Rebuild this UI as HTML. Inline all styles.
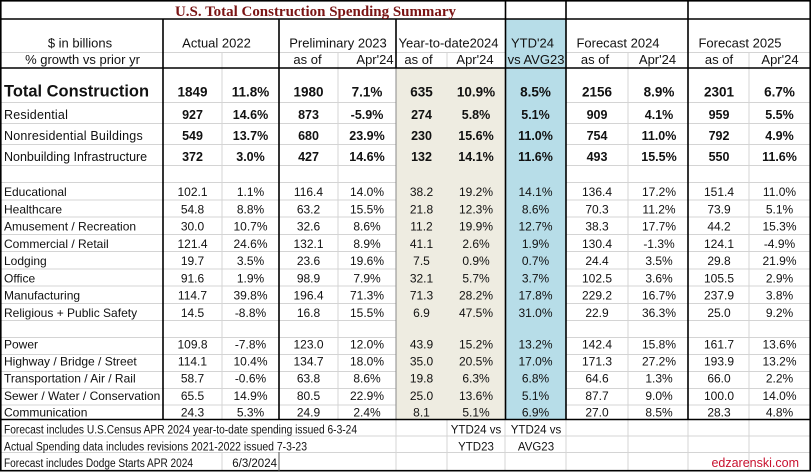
<!DOCTYPE html>
<html><head><meta charset="utf-8"><style>
html,body{margin:0;padding:0;background:#fff;}
svg{display:block;}
text{font-family:"Liberation Sans",Arial,sans-serif;fill:#111;}
.h{font-size:13px;}
.t{font-size:12.5px;}
.b{font-size:12.5px;font-weight:bold;}
.d{font-size:12px;}
.f{font-size:11.5px;}
.m{text-anchor:middle;}
</style></head><body>
<svg width="812" height="472" viewBox="0 0 812 472" xmlns="http://www.w3.org/2000/svg">
<rect x="0" y="0" width="812" height="472" fill="#fff"/>
<!-- gray gridlines -->
<g stroke="#d4d4d4" stroke-width="1" shape-rendering="crispEdges">
<line x1="0" y1="52.5" x2="810" y2="52.5"/>
<line x1="0" y1="102.5" x2="810" y2="102.5"/>
<line x1="0" y1="123.5" x2="810" y2="123.5"/>
<line x1="0" y1="144.5" x2="810" y2="144.5"/>
<line x1="0" y1="165.5" x2="810" y2="165.5"/>
<line x1="0" y1="182.5" x2="810" y2="182.5"/>
<line x1="0" y1="199.75" x2="810" y2="199.75"/>
<line x1="0" y1="217" x2="810" y2="217"/>
<line x1="0" y1="234.25" x2="810" y2="234.25"/>
<line x1="0" y1="251.5" x2="810" y2="251.5"/>
<line x1="0" y1="268.75" x2="810" y2="268.75"/>
<line x1="0" y1="286" x2="810" y2="286"/>
<line x1="0" y1="303.25" x2="810" y2="303.25"/>
<line x1="0" y1="320.5" x2="810" y2="320.5"/>
<line x1="0" y1="337.3" x2="810" y2="337.3"/>
<line x1="0" y1="354.4" x2="810" y2="354.4"/>
<line x1="0" y1="371.5" x2="810" y2="371.5"/>
<line x1="0" y1="388.6" x2="810" y2="388.6"/>
<line x1="0" y1="405.2" x2="810" y2="405.2"/>
<line x1="0" y1="436" x2="810" y2="436"/>
<line x1="0" y1="452.5" x2="810" y2="452.5"/>
<line x1="222" y1="52" x2="222" y2="419"/>
<line x1="338" y1="52" x2="338" y2="419"/>
<line x1="447" y1="52" x2="447" y2="471"/>
<line x1="628" y1="52" x2="628" y2="471"/>
<line x1="749" y1="52" x2="749" y2="471"/>
<line x1="396" y1="419" x2="396" y2="471"/>
<line x1="505" y1="419" x2="505" y2="471"/>
<line x1="566" y1="419" x2="566" y2="471"/>
<line x1="688" y1="419" x2="688" y2="471"/>
<line x1="222" y1="452" x2="222" y2="471"/>
<line x1="279" y1="452" x2="279" y2="471"/>
</g>
<!-- white cover for footer overflow text -->
<rect x="1" y="420.5" width="394" height="15" fill="#fff"/>
<rect x="1" y="436.5" width="394" height="15.5" fill="#fff"/>
<rect x="1" y="453" width="220" height="17" fill="#fff"/>
<!-- fills -->
<rect x="396" y="68" width="109" height="351.5" fill="#eeece1"/>
<rect x="505" y="19" width="61" height="400.5" fill="#b7dde8"/>
<!-- beige left border in data area -->
<line x1="396" y1="68" x2="396" y2="419" stroke="#8a8a8a" stroke-width="1"/>
<!-- black lines -->
<g stroke="#000" stroke-width="1.6" fill="none">
<rect x="0.8" y="0.8" width="809.4" height="469.9"/>
<line x1="0" y1="19" x2="810" y2="19"/>
<line x1="0" y1="68" x2="810" y2="68"/>
<line x1="0" y1="419.5" x2="810" y2="419.5"/>
<line x1="163" y1="19" x2="163" y2="419.5"/>
<line x1="279" y1="19" x2="279" y2="419.5"/>
<line x1="396" y1="19" x2="396" y2="68"/>
<line x1="505.5" y1="0" x2="505.5" y2="419.5"/>
<line x1="566" y1="0" x2="566" y2="419.5"/>
<line x1="688" y1="0" x2="688" y2="419.5"/>
</g>
<line x1="279" y1="452" x2="279" y2="471" stroke="#555" stroke-width="1"/>

<!-- title -->
<text x="175" y="16" textLength="281" lengthAdjust="spacingAndGlyphs" style="font-family:'Liberation Serif','Times New Roman',serif;font-weight:bold;font-size:14.5px;fill:#7a1414;">U.S. Total Construction Spending Summary</text>

<!-- header row 1 -->
<text class="h m" x="80" y="47.5">$ in billions</text>
<text class="h m" x="216.5" y="47.5">Actual 2022</text>
<text class="h m" x="338" y="47.5">Preliminary 2023</text>
<text class="h m" x="448.5" y="47.5">Year-to-date2024</text>
<text class="h m" x="532.5" y="47.5">YTD'24</text>
<text class="h m" x="618" y="47.5">Forecast 2024</text>
<text class="h m" x="740" y="47.5">Forecast 2025</text>
<!-- header row 2 -->
<text class="h m" x="82.5" y="64">% growth vs prior yr</text>
<text class="h m" x="307.5" y="64">as of</text>
<text class="h m" x="375" y="64">Apr'24</text>
<text class="h m" x="418.5" y="64">as of</text>
<text class="h m" x="475" y="64">Apr'24</text>
<text class="h m" x="536" y="64">vs AVG23</text>
<text class="h m" x="595" y="64">as of</text>
<text class="h m" x="657.5" y="64">Apr'24</text>
<text class="h m" x="719" y="64">as of</text>
<text class="h m" x="780" y="64">Apr'24</text>

<!-- Total Construction -->
<text x="4" y="96.7" textLength="145" lengthAdjust="spacingAndGlyphs" style="font-size:16.5px;font-weight:bold;">Total Construction</text>
<g style="font-size:13.5px;font-weight:bold;" text-anchor="middle">
<text x="192.5" y="96.7">1849</text><text x="250.5" y="96.7">11.8%</text>
<text x="308.5" y="96.7">1980</text><text x="367" y="96.7">7.1%</text>
<text x="421.5" y="96.7">635</text><text x="476" y="96.7">10.9%</text>
<text x="535.5" y="96.7">8.5%</text>
<text x="597" y="96.7">2156</text><text x="659" y="96.7">8.9%</text>
<text x="719" y="96.7">2301</text><text x="779.5" y="96.7">6.7%</text>
</g>

<!-- Residential etc -->
<text class="t" x="4" y="119" style="letter-spacing:0.2px">Residential</text>
<text class="t" x="4" y="140" style="letter-spacing:0.2px">Nonresidential Buildings</text>
<text class="t" x="4" y="161">Nonbuilding Infrastructure</text>
<g class="b" text-anchor="middle">
<text class="b" x="192.5" y="119">927</text><text class="b" x="250.5" y="119">14.6%</text>
<text class="b" x="308.5" y="119">873</text><text class="b" x="367" y="119">-5.9%</text>
<text class="b" x="421.5" y="119">274</text><text class="b" x="476" y="119">5.8%</text>
<text class="b" x="535.5" y="119">5.1%</text>
<text class="b" x="597" y="119">909</text><text class="b" x="659" y="119">4.1%</text>
<text class="b" x="719" y="119">959</text><text class="b" x="779.5" y="119">5.5%</text>

<text class="b" x="192.5" y="140">549</text><text class="b" x="250.5" y="140">13.7%</text>
<text class="b" x="308.5" y="140">680</text><text class="b" x="367" y="140">23.9%</text>
<text class="b" x="421.5" y="140">230</text><text class="b" x="476" y="140">15.6%</text>
<text class="b" x="535.5" y="140">11.0%</text>
<text class="b" x="597" y="140">754</text><text class="b" x="659" y="140">11.0%</text>
<text class="b" x="719" y="140">792</text><text class="b" x="779.5" y="140">4.9%</text>

<text class="b" x="192.5" y="161">372</text><text class="b" x="250.5" y="161">3.0%</text>
<text class="b" x="308.5" y="161">427</text><text class="b" x="367" y="161">14.6%</text>
<text class="b" x="421.5" y="161">132</text><text class="b" x="476" y="161">14.1%</text>
<text class="b" x="535.5" y="161">11.6%</text>
<text class="b" x="597" y="161">493</text><text class="b" x="659" y="161">15.5%</text>
<text class="b" x="719" y="161">550</text><text class="b" x="779.5" y="161">11.6%</text>
</g>

<!-- detail rows -->
<g class="d">
<text class="d" x="4" y="196">Educational</text>
<text class="d" x="4" y="213.25">Healthcare</text>
<text class="d" x="4" y="230.5">Amusement / Recreation</text>
<text class="d" x="4" y="247.75">Commercial / Retail</text>
<text class="d" x="4" y="265">Lodging</text>
<text class="d" x="4" y="282.25">Office</text>
<text class="d" x="4" y="299.5">Manufacturing</text>
<text class="d" x="4" y="316.75">Religious + Public Safety</text>
<text class="d" x="4" y="348.3">Power</text>
<text class="d" x="4" y="365.5">Highway / Bridge / Street</text>
<text class="d" x="4" y="382.6">Transportation / Air / Rail</text>
<text class="d" x="4" y="399.8">Sewer / Water / Conservation</text>
<text class="d" x="4" y="416.5">Communication</text>
</g>
<g class="d" text-anchor="middle">
<text class="d" x="192.5" y="196">102.1</text><text class="d" x="250.5" y="196">1.1%</text><text class="d" x="308.5" y="196">116.4</text><text class="d" x="367" y="196">14.0%</text><text class="d" x="421.5" y="196">38.2</text><text class="d" x="476" y="196">19.2%</text><text class="d" x="535.5" y="196">14.1%</text><text class="d" x="597" y="196">136.4</text><text class="d" x="659" y="196">17.2%</text><text class="d" x="719" y="196">151.4</text><text class="d" x="779.5" y="196">11.0%</text>

<text class="d" x="192.5" y="213.25">54.8</text><text class="d" x="250.5" y="213.25">8.8%</text><text class="d" x="308.5" y="213.25">63.2</text><text class="d" x="367" y="213.25">15.5%</text><text class="d" x="421.5" y="213.25">21.8</text><text class="d" x="476" y="213.25">12.3%</text><text class="d" x="535.5" y="213.25">8.6%</text><text class="d" x="597" y="213.25">70.3</text><text class="d" x="659" y="213.25">11.2%</text><text class="d" x="719" y="213.25">73.9</text><text class="d" x="779.5" y="213.25">5.1%</text>

<text class="d" x="192.5" y="230.5">30.0</text><text class="d" x="250.5" y="230.5">10.7%</text><text class="d" x="308.5" y="230.5">32.6</text><text class="d" x="367" y="230.5">8.6%</text><text class="d" x="421.5" y="230.5">11.2</text><text class="d" x="476" y="230.5">19.9%</text><text class="d" x="535.5" y="230.5">12.7%</text><text class="d" x="597" y="230.5">38.3</text><text class="d" x="659" y="230.5">17.7%</text><text class="d" x="719" y="230.5">44.2</text><text class="d" x="779.5" y="230.5">15.3%</text>

<text class="d" x="192.5" y="247.75">121.4</text><text class="d" x="250.5" y="247.75">24.6%</text><text class="d" x="308.5" y="247.75">132.1</text><text class="d" x="367" y="247.75">8.9%</text><text class="d" x="421.5" y="247.75">41.1</text><text class="d" x="476" y="247.75">2.6%</text><text class="d" x="535.5" y="247.75">1.9%</text><text class="d" x="597" y="247.75">130.4</text><text class="d" x="659" y="247.75">-1.3%</text><text class="d" x="719" y="247.75">124.1</text><text class="d" x="779.5" y="247.75">-4.9%</text>

<text class="d" x="192.5" y="265">19.7</text><text class="d" x="250.5" y="265">3.5%</text><text class="d" x="308.5" y="265">23.6</text><text class="d" x="367" y="265">19.6%</text><text class="d" x="421.5" y="265">7.5</text><text class="d" x="476" y="265">0.9%</text><text class="d" x="535.5" y="265">0.7%</text><text class="d" x="597" y="265">24.4</text><text class="d" x="659" y="265">3.5%</text><text class="d" x="719" y="265">29.8</text><text class="d" x="779.5" y="265">21.9%</text>

<text class="d" x="192.5" y="282.25">91.6</text><text class="d" x="250.5" y="282.25">1.9%</text><text class="d" x="308.5" y="282.25">98.9</text><text class="d" x="367" y="282.25">7.9%</text><text class="d" x="421.5" y="282.25">32.1</text><text class="d" x="476" y="282.25">5.7%</text><text class="d" x="535.5" y="282.25">3.7%</text><text class="d" x="597" y="282.25">102.5</text><text class="d" x="659" y="282.25">3.6%</text><text class="d" x="719" y="282.25">105.5</text><text class="d" x="779.5" y="282.25">2.9%</text>

<text class="d" x="192.5" y="299.5">114.7</text><text class="d" x="250.5" y="299.5">39.8%</text><text class="d" x="308.5" y="299.5">196.4</text><text class="d" x="367" y="299.5">71.3%</text><text class="d" x="421.5" y="299.5">71.3</text><text class="d" x="476" y="299.5">28.2%</text><text class="d" x="535.5" y="299.5">17.8%</text><text class="d" x="597" y="299.5">229.2</text><text class="d" x="659" y="299.5">16.7%</text><text class="d" x="719" y="299.5">237.9</text><text class="d" x="779.5" y="299.5">3.8%</text>

<text class="d" x="192.5" y="316.75">14.5</text><text class="d" x="250.5" y="316.75">-8.8%</text><text class="d" x="308.5" y="316.75">16.8</text><text class="d" x="367" y="316.75">15.5%</text><text class="d" x="421.5" y="316.75">6.9</text><text class="d" x="476" y="316.75">47.5%</text><text class="d" x="535.5" y="316.75">31.0%</text><text class="d" x="597" y="316.75">22.9</text><text class="d" x="659" y="316.75">36.3%</text><text class="d" x="719" y="316.75">25.0</text><text class="d" x="779.5" y="316.75">9.2%</text>

<text class="d" x="192.5" y="348.3">109.8</text><text class="d" x="250.5" y="348.3">-7.8%</text><text class="d" x="308.5" y="348.3">123.0</text><text class="d" x="367" y="348.3">12.0%</text><text class="d" x="421.5" y="348.3">43.9</text><text class="d" x="476" y="348.3">15.2%</text><text class="d" x="535.5" y="348.3">13.2%</text><text class="d" x="597" y="348.3">142.4</text><text class="d" x="659" y="348.3">15.8%</text><text class="d" x="719" y="348.3">161.7</text><text class="d" x="779.5" y="348.3">13.6%</text>

<text class="d" x="192.5" y="365.5">114.1</text><text class="d" x="250.5" y="365.5">10.4%</text><text class="d" x="308.5" y="365.5">134.7</text><text class="d" x="367" y="365.5">18.0%</text><text class="d" x="421.5" y="365.5">35.0</text><text class="d" x="476" y="365.5">20.5%</text><text class="d" x="535.5" y="365.5">17.0%</text><text class="d" x="597" y="365.5">171.3</text><text class="d" x="659" y="365.5">27.2%</text><text class="d" x="719" y="365.5">193.9</text><text class="d" x="779.5" y="365.5">13.2%</text>

<text class="d" x="192.5" y="382.6">58.7</text><text class="d" x="250.5" y="382.6">-0.6%</text><text class="d" x="308.5" y="382.6">63.8</text><text class="d" x="367" y="382.6">8.6%</text><text class="d" x="421.5" y="382.6">19.8</text><text class="d" x="476" y="382.6">6.3%</text><text class="d" x="535.5" y="382.6">6.8%</text><text class="d" x="597" y="382.6">64.6</text><text class="d" x="659" y="382.6">1.3%</text><text class="d" x="719" y="382.6">66.0</text><text class="d" x="779.5" y="382.6">2.2%</text>

<text class="d" x="192.5" y="399.8">65.5</text><text class="d" x="250.5" y="399.8">14.9%</text><text class="d" x="308.5" y="399.8">80.5</text><text class="d" x="367" y="399.8">22.9%</text><text class="d" x="421.5" y="399.8">25.0</text><text class="d" x="476" y="399.8">13.6%</text><text class="d" x="535.5" y="399.8">5.1%</text><text class="d" x="597" y="399.8">87.7</text><text class="d" x="659" y="399.8">9.0%</text><text class="d" x="719" y="399.8">100.0</text><text class="d" x="779.5" y="399.8">14.0%</text>

<text class="d" x="192.5" y="416.5">24.3</text><text class="d" x="250.5" y="416.5">5.3%</text><text class="d" x="308.5" y="416.5">24.9</text><text class="d" x="367" y="416.5">2.4%</text><text class="d" x="421.5" y="416.5">8.1</text><text class="d" x="476" y="416.5">5.1%</text><text class="d" x="535.5" y="416.5">6.9%</text><text class="d" x="597" y="416.5">27.0</text><text class="d" x="659" y="416.5">8.5%</text><text class="d" x="719" y="416.5">28.3</text><text class="d" x="779.5" y="416.5">4.8%</text>
</g>

<!-- footer -->
<text class="f" x="4" y="433.5" textLength="353" lengthAdjust="spacingAndGlyphs">Forecast includes U.S.Census APR 2024 year-to-date spending issued 6-3-24</text>
<text class="f" x="4" y="450.5" textLength="303" lengthAdjust="spacingAndGlyphs">Actual Spending data includes revisions 2021-2022 issued 7-3-23</text>
<text class="f" x="4" y="467" textLength="189" lengthAdjust="spacingAndGlyphs">Forecast includes Dodge Starts APR 2024</text>
<text class="f" x="277" y="467" text-anchor="end">6/3/2024</text>
<text class="f m" x="476" y="433.5">YTD24 vs</text>
<text class="f m" x="476" y="450.5">YTD23</text>
<text class="f m" x="536" y="433.5">YTD24 vs</text>
<text class="f m" x="536" y="450.5">AVG23</text>
<text x="799" y="467" text-anchor="end" style="font-size:12.5px;fill:#c8102e;">edzarenski.com</text>
</svg>
</body></html>
